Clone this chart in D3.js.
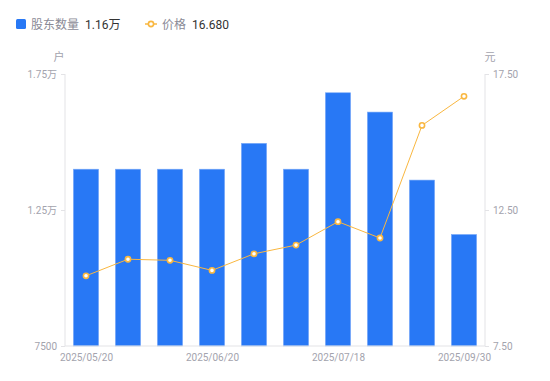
<!DOCTYPE html>
<html><head><meta charset="utf-8">
<script src="https://cdn.jsdelivr.net/npm/d3@7/dist/d3.min.js"></script>
<style>body{margin:0;background:#fff;}svg{display:block;font-family:"Noto Sans CJK SC","Noto Sans",sans-serif;}</style>
</head><body><svg id="c" width="550" height="381"></svg>
<script>
const dates = ["2025/05/20","2025/05/30","2025/06/10","2025/06/20","2025/06/30","2025/07/10","2025/07/18","2025/07/31","2025/08/29","2025/09/30"];
const holders = [14000,14000,14000,14000,14950,14000,16810,16100,13600,11600];
const prices = [10.08,10.69,10.65,10.28,10.89,11.21,12.07,11.47,15.61,16.68];
const xTickLabels = ["2025/05/20","2025/06/20","2025/07/18","2025/09/30"];
const leftTicks = [7500,12500,17500];
const rightTicks = [7.5,12.5,17.5];

const svg = d3.select("#c");
const L=65,R=485,T=74,B=346;
const x = d3.scaleBand().domain(dates).range([L,R]).paddingInner(0.4).paddingOuter(0.2);
const xc = d3.scalePoint().domain(dates).range([L,R]).padding(0.5);
const yl = d3.scaleLinear().domain([7500,17500]).range([B,T]);
const yr = d3.scaleLinear().domain([7.5,17.5]).range([B,T]);
const axisColor="#e3e3e6", tickText="#a3a3ad";

// bars
svg.append("g").selectAll("rect").data(holders).join("rect")
  .attr("x",(d,i)=>x(dates[i])).attr("width",x.bandwidth())
  .attr("y",d=>yl(d)).attr("height",d=>B-yl(d))
  .attr("fill","#2878f5").attr("stroke","#7aaaf8").attr("stroke-width",0.6);

// axes
const fmtL = v => v>=10000 ? (v/10000).toFixed(2)+"万" : String(v);
const gl = svg.append("g").attr("transform",`translate(${L},0)`)
  .call(d3.axisLeft(yl).tickValues(leftTicks).tickFormat(fmtL).tickSize(4).tickPadding(4));
const gr = svg.append("g").attr("transform",`translate(${R},0)`)
  .call(d3.axisRight(yr).tickValues(rightTicks).tickFormat(d3.format(".2f")).tickSize(4).tickPadding(4));
const gb = svg.append("g").attr("transform",`translate(0,${B})`)
  .call(d3.axisBottom(xc).tickValues(xTickLabels).tickSize(0).tickPadding(8));
[gl,gr,gb].forEach(g=>{
  g.select(".domain").attr("stroke",axisColor);
  g.selectAll(".tick line").attr("stroke",axisColor);
  g.selectAll("text").attr("fill",tickText).style("font-size","10px").style("font-family","Roboto,'Noto Sans CJK SC',sans-serif");
});
gb.select(".domain").attr("d",`M${L},0H${R}`);
gl.select(".domain").attr("d",`M0,${B}V${T}`);
gr.select(".domain").attr("d",`M0,${B}V${T}`);

// unit labels
svg.append("text").attr("x",59).attr("y",61).attr("text-anchor","middle").attr("fill",tickText).style("font-size","11px").text("户");
svg.append("text").attr("x",490).attr("y",61).attr("text-anchor","middle").attr("fill",tickText).style("font-size","11px").text("元");

// line
const line = d3.line().x((d,i)=>xc(dates[i])).y(d=>yr(d));
svg.append("path").datum(prices).attr("d",line).attr("fill","none").attr("stroke","#f9b740").attr("stroke-width",1);
svg.append("g").selectAll("circle").data(prices).join("circle")
  .attr("cx",(d,i)=>xc(dates[i])).attr("cy",d=>yr(d)).attr("r",2.6)
  .attr("fill","#fff").attr("stroke","#f9b740").attr("stroke-width",1.6);

// legend
const lg = svg.append("g").style("font-size","12px");
lg.append("rect").attr("x",16).attr("y",19).attr("width",10).attr("height",10).attr("rx",1.5).attr("fill","#2878f5");
lg.append("text").attr("x",31).attr("y",29).attr("fill","#8a8a96").text("股东数量");
lg.append("text").attr("x",85).attr("y",29).attr("fill","#333").style("font-family","Roboto,'Noto Sans CJK SC',sans-serif").text(fmtL(holders[holders.length-1]));
lg.append("line").attr("x1",145).attr("x2",157).attr("y1",24).attr("y2",24).attr("stroke","#f9b740").attr("stroke-width",1.5);
lg.append("circle").attr("cx",151).attr("cy",24).attr("r",2.6).attr("fill","#fff").attr("stroke","#f9b740").attr("stroke-width",1.6);
lg.append("text").attr("x",162).attr("y",29).attr("fill","#8a8a96").text("价格");
lg.append("text").attr("x",192).attr("y",29).attr("fill","#333").style("font-family","Roboto,'Noto Sans CJK SC',sans-serif").text(prices[prices.length-1].toFixed(3));
</script></body></html>
